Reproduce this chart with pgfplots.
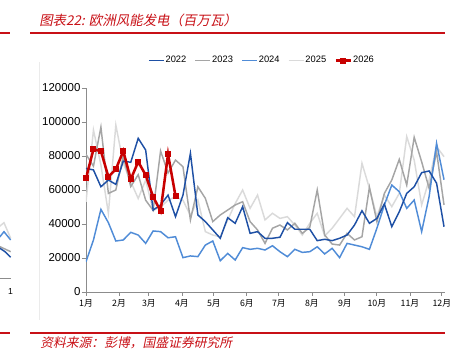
\documentclass[border=0pt]{standalone}
\usepackage{pgfplots}
\pgfplotsset{compat=1.18}
\usepackage{pgfplotstable}
\usepackage{fontspec}
\setmainfont{Liberation Sans}
\newfontfamily\cjk{Noto Sans CJK SC}
\newfontfamily\cjkit[FakeSlant=0.2]{Noto Sans CJK SC}
\definecolor{c22}{RGB}{30,80,165}
\definecolor{c23}{RGB}{165,165,165}
\definecolor{c24}{RGB}{80,140,215}
\definecolor{c25}{RGB}{218,218,218}
\definecolor{c26}{RGB}{200,0,0}
\definecolor{axgray}{RGB}{140,140,140}
\definecolor{hdred}{RGB}{200,16,22}

\pgfplotstableread{
w y
0 72700
1 71800
2 61900
3 65900
4 63300
5 77000
6 76300
7 90400
8 83500
9 48200
10 51200
11 57000
12 44300
13 57000
14 81600
15 45300
16 41400
17 36500
18 31600
19 43700
20 40400
21 50200
22 34500
23 35500
24 31600
25 31600
26 32200
27 40800
28 36900
29 36900
30 36900
31 30200
32 31000
33 30200
34 31600
35 33500
36 39400
37 47800
38 40400
39 43300
40 51800
41 38400
42 47200
43 58000
44 61900
45 70200
46 71200
47 64000
48 38400
}\dA

\pgfplotstableread{
w y
0 81000
1 74000
2 97000
3 58000
4 60000
5 80000
6 62000
7 69000
8 54000
9 48000
10 83000
11 70000
12 77600
13 73700
14 42400
15 61900
16 55100
17 41400
18 45300
19 48200
20 51200
21 53100
22 41400
23 36500
24 28600
25 37500
26 39400
27 36500
28 40400
29 34500
30 38000
31 60000
32 33500
33 28200
34 27600
35 34500
36 30600
37 32500
38 61600
39 41400
40 58000
41 65900
42 78000
43 62900
44 91000
45 76600
46 61000
47 82500
48 51200
}\dB

\pgfplotstableread{
w y
0 17800
1 30600
2 48600
3 40800
4 30000
5 30600
6 35100
7 33500
8 28600
9 35900
10 35500
11 31900
12 32500
13 20200
14 21200
15 20800
16 27600
17 30000
18 18400
19 22700
20 18800
21 26100
22 25100
23 25700
24 24700
25 27200
26 23700
27 20800
28 25100
29 23300
30 23700
31 26600
32 22400
33 25700
34 20200
35 28600
36 27600
37 26600
38 25100
39 37500
40 51200
41 62900
42 59000
43 49200
44 54100
45 35500
46 56100
47 87500
48 66000
}\dC

\pgfplotstableread{
w y
0 53000
1 95300
2 74700
3 46300
4 98200
5 75700
6 64900
7 55000
8 65900
9 48000
10 50000
11 54000
12 56000
13 54000
14 45000
15 54100
16 35500
17 33500
18 32500
19 42400
20 52000
21 60000
22 49200
23 57000
24 42400
25 46300
26 43300
27 44300
28 39400
29 33500
30 40400
31 46300
32 33000
33 37500
34 43300
35 49200
36 44300
37 75700
38 61000
39 44300
40 57000
41 50200
42 58000
43 91400
44 77600
45 51200
46 65900
47 85500
48 79600
}\dD

\pgfplotstableread{
w y
0 66900
1 83900
2 82900
3 67800
4 72200
5 82900
6 66300
7 76600
8 68800
9 56000
10 47600
11 81000
12 56500
}\dE

\begin{document}
\begin{tikzpicture}[x=0.75pt,y=0.75pt]
\path[use as bounding box] (0,0) rectangle (458,352);

% header / footer rules
\draw[hdred,line width=1.5pt] (0,318.5) -- (10,318.5);
\draw[hdred,line width=1.5pt] (30,318.5) -- (445,318.5);
\draw[hdred,line width=1.5pt] (0,18.7) -- (10,18.7);
\draw[hdred,line width=1.5pt] (30,18.7) -- (445,18.7);
\node[anchor=west,inner sep=0pt,text=hdred,font=\fontsize{10.1}{12}\selectfont] at (39,332) {\cjkit 图表22: 欧洲风能发电（百万瓦）};
\node[anchor=west,inner sep=0pt,text=hdred,font=\fontsize{9.6}{11}\selectfont] at (40,9) {\cjkit 资料来源：彭博，国盛证券研究所};

% faint border of neighbouring chart
\draw[black!8,line width=0.6pt] (39,32) -- (39,290);

% remnant of neighbouring chart
\begin{axis}[at={(-37.5pt,55.5pt)},anchor=south west,scale only axis,
  width=45.5pt,height=75pt,xmin=-50,xmax=10.7,ymin=0,ymax=100,
  axis x line*=bottom,axis y line=none,xtick=\empty,
  x axis line style={axgray,line width=0.6pt,-},clip=false]
\addplot[c25,line width=1.1pt] coordinates {(-6,50)(0,52)(4,55.3)(10.7,39.7)};
\addplot[c23,line width=1.1pt] coordinates {(-6,34)(0,31.3)(10.7,26.3)};
\addplot[c24,line width=1.1pt] coordinates {(-6,38)(0,41.3)(4,46.3)(10.7,38)};
\addplot[c22,line width=1.1pt] coordinates {(-6,33)(0,29.7)(5,26.3)(10.7,20.7)};
\end{axis}
\node[inner sep=0pt,font=\fontsize{6.5}{8}\selectfont] at (10.5,60) {1};

\begin{axis}[at={(64.5pt,45pt)},anchor=south west,scale only axis,
  width=269.25pt,height=153pt,
  xmin=0,xmax=48.13,ymin=0,ymax=120000,
  axis x line*=bottom,axis y line*=left,
  axis line style={axgray,line width=0.6pt},
  every tick/.style={axgray,line width=0.6pt},
  tick align=outside,
  major tick length=3pt,
  ytick={0,20000,...,120000},
  scaled y ticks=false,
  yticklabel style={font=\fontsize{8.6}{10}\selectfont,/pgf/number format/fixed,/pgf/number format/1000 sep={},/pgf/number format/assume math mode=true,inner sep=1pt},
  xtick={0,4.43,8.43,12.86,17.14,21.57,25.86,30.29,34.71,39,43.43,47.71},
  xticklabels={1月,2月,3月,4月,5月,6月,7月,8月,9月,10月,11月,12月},
  xticklabel style={font=\cjk\fontsize{6.6}{8}\selectfont,inner sep=1pt,yshift=-1.5pt},
  clip=true]
\addplot[c25,line width=1.1pt] table[x=w,y=y]{\dD}; 
\addplot[c23,line width=1.1pt] table[x=w,y=y]{\dB};
\addplot[c24,line width=1.1pt] table[x=w,y=y]{\dC};
\addplot[c22,line width=1.1pt] table[x=w,y=y]{\dA};
\addplot[c26,line width=1.9pt,mark=square*,mark size=1.3pt,mark options={solid}] table[x=w,y=y]{\dE};
\end{axis}

% legend
\begin{axis}[at={(64.5pt,45pt)},anchor=south west,scale only axis,
  width=269.25pt,height=153pt,xmin=0,xmax=1,ymin=0,ymax=1,hide axis,
  legend columns=5,
  legend style={at={(0.489,1.134)},anchor=center,draw=none,fill=none,
    font=\fontsize{7}{8}\selectfont,inner sep=0pt,
    nodes={inner sep=0.8pt},
    /tikz/every even column/.append style={column sep=5.5pt}},
  legend image code/.code={\draw[#1,mark repeat=2,mark phase=2] plot coordinates {(0pt,0pt) (5.6pt,0pt) (11.2pt,0pt)};}]
\addlegendimage{c22,line width=1.1pt}
\addlegendentry{2022}
\addlegendimage{c23,line width=1.1pt}
\addlegendentry{2023}
\addlegendimage{c24,line width=1.1pt}
\addlegendentry{2024}
\addlegendimage{c25,line width=1.1pt}
\addlegendentry{2025}
\addlegendimage{c26,line width=1.9pt,mark=square*,mark size=1.2pt}
\addlegendentry{2026}
\end{axis}
\end{tikzpicture}
\end{document}
